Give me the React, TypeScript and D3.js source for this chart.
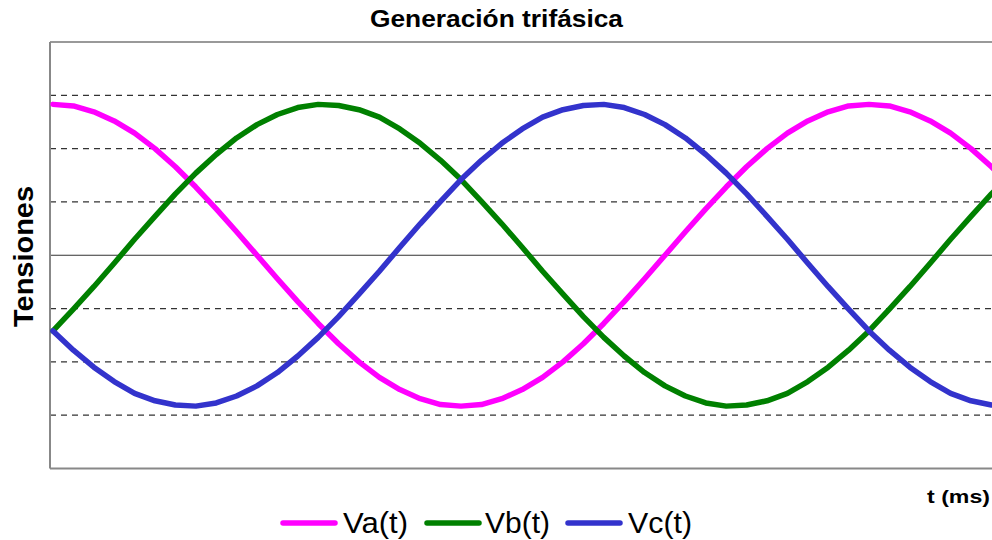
import React from "react";
import * as d3 from "d3";

// time in ms (0.5 ms steps)
const timeMs: number[] = [
  0, 0.5, 1, 1.5, 2, 2.5, 3, 3.5, 4, 4.5, 5, 5.5, 6, 6.5, 7, 7.5, 8, 8.5, 9, 9.5,
  10, 10.5, 11, 11.5, 12, 12.5, 13, 13.5, 14, 14.5, 15, 15.5, 16, 16.5, 17, 17.5,
  18, 18.5, 19, 19.5, 20, 20.5, 21, 21.5, 22, 22.5, 23, 23.5,
];

const va: number[] = [
  2.83, 2.8, 2.69, 2.52, 2.29, 2.0, 1.66, 1.28, 0.87, 0.44, 0, -0.44, -0.87, -1.28,
  -1.66, -2.0, -2.29, -2.52, -2.69, -2.8, -2.83, -2.8, -2.69, -2.52, -2.29, -2.0,
  -1.66, -1.28, -0.87, -0.44, 0, 0.44, 0.87, 1.28, 1.66, 2.0, 2.29, 2.52, 2.69, 2.8,
  2.83, 2.8, 2.69, 2.52, 2.29, 2.0, 1.66, 1.28,
];

const vb: number[] = [
  -1.42, -1.01, -0.59, -0.15, 0.3, 0.73, 1.15, 1.54, 1.89, 2.2, 2.45, 2.64, 2.77,
  2.83, 2.81, 2.73, 2.59, 2.37, 2.1, 1.78, 1.42, 1.01, 0.59, 0.15, -0.3, -0.73,
  -1.15, -1.54, -1.89, -2.2, -2.45, -2.64, -2.77, -2.83, -2.81, -2.73, -2.59, -2.37,
  -2.1, -1.78, -1.42, -1.01, -0.59, -0.15, 0.3, 0.73, 1.15, 1.54,
];

const vc: number[] = [
  -1.42, -1.78, -2.1, -2.37, -2.59, -2.73, -2.81, -2.83, -2.77, -2.64, -2.45, -2.2,
  -1.89, -1.54, -1.15, -0.73, -0.3, 0.15, 0.59, 1.01, 1.42, 1.78, 2.1, 2.37, 2.59,
  2.73, 2.81, 2.83, 2.77, 2.64, 2.45, 2.2, 1.89, 1.54, 1.15, 0.73, 0.3, -0.15, -0.59,
  -1.01, -1.42, -1.78, -2.1, -2.37, -2.59, -2.73, -2.81, -2.83,
];

const yTicks: number[] = [-3, -2, -1, 0, 1, 2, 3];

const seriesNames: string[] = ["Va(t)", "Vb(t)", "Vc(t)"];
const seriesColors: string[] = ["#ff00ff", "#008000", "#3333cc"];

const title = "Generación trifásica";
const yTitle = "Tensiones";
const xTitle = "t (ms)";

const W = 992;
const H = 540;
const plotLeft = 50;
const plotTop = 42;
const plotBottom = 468.5;
const plotRight = 992;

export default function App() {
  const x = d3.scaleLinear().domain([0, 23.5]).range([53, 53 + 23.5 * 40.8]);
  const y = d3.scaleLinear().domain([-4, 4]).range([plotBottom, plotTop]);

  const seriesData = [va, vb, vc];
  const line = d3
    .line<number>()
    .x((_, i) => x(timeMs[i]))
    .y((d) => y(d));

  const legendLineX = [283, 427, 568];
  const legendTextX = [343, 485, 628];
  const legendTextW = [65, 65, 64];

  return (
    <div style={{ position: "absolute", left: 0, top: 0 }}>
      <svg width={W} height={H} style={{ display: "block" }} fontFamily="'Liberation Sans', Arial, sans-serif">
        <rect x={0} y={0} width={W} height={H} fill="#ffffff" />
        <defs>
          <clipPath id="plotClip">
            <rect x={plotLeft} y={plotTop} width={plotRight - plotLeft} height={plotBottom - plotTop} />
          </clipPath>
        </defs>
        {/* gridlines */}
        {yTicks.map((t) =>
          t === 0 ? (
            <line key={t} x1={plotLeft} x2={plotRight} y1={y(t)} y2={y(t)} stroke="#333" strokeWidth={1.2} />
          ) : (
            <line
              key={t}
              x1={plotLeft}
              x2={plotRight}
              y1={y(t)}
              y2={y(t)}
              stroke="#333"
              strokeWidth={1.2}
              strokeDasharray="6,5"
            />
          )
        )}
        {/* plot border */}
        <line x1={plotLeft} x2={plotRight} y1={plotTop} y2={plotTop} stroke="#999" strokeWidth={2} />
        <line x1={plotLeft} x2={plotRight} y1={plotBottom} y2={plotBottom} stroke="#888" strokeWidth={2} />
        <line x1={plotLeft} x2={plotLeft} y1={plotTop} y2={plotBottom} stroke="#888" strokeWidth={2} />
        {/* series */}
        <g clipPath="url(#plotClip)">
          {seriesData.map((s, i) => (
            <path
              key={i}
              d={line(s) || ""}
              fill="none"
              stroke={seriesColors[i]}
              strokeWidth={5.5}
              strokeLinejoin="round"
              strokeLinecap="round"
            />
          ))}
        </g>
        {/* title */}
        <text x={370} y={27} fontSize={24} fontWeight="bold" textLength={253} lengthAdjust="spacingAndGlyphs" fill="#000">
          {title}
        </text>
        {/* y title */}
        <text
          transform={`translate(33,327) rotate(-90)`}
          x={0}
          y={0}
          fontSize={28}
          fontWeight="bold"
          textLength={141}
          lengthAdjust="spacingAndGlyphs"
          fill="#000"
        >
          {yTitle}
        </text>
        {/* x title */}
        <text x={927} y={503} fontSize={19} fontWeight="bold" textLength={63} lengthAdjust="spacingAndGlyphs" fill="#000">
          {xTitle}
        </text>
        {/* legend */}
        {seriesNames.map((n, i) => (
          <g key={n}>
            <line
              x1={legendLineX[i]}
              x2={legendLineX[i] + 52}
              y1={523}
              y2={523}
              stroke={seriesColors[i]}
              strokeWidth={5.5}
              strokeLinecap="round"
            />
            <text
              x={legendTextX[i]}
              y={533}
              fontSize={30}
              textLength={legendTextW[i]}
              lengthAdjust="spacingAndGlyphs"
              fill="#000"
            >
              {n}
            </text>
          </g>
        ))}
      </svg>
    </div>
  );
}
